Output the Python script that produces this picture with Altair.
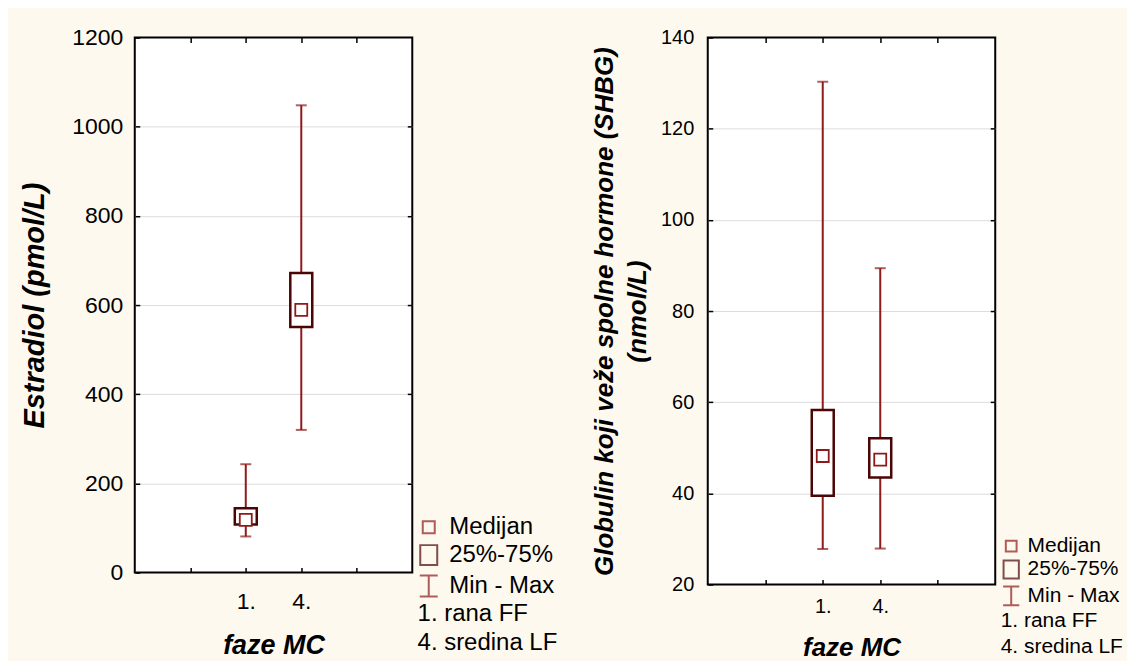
import altair as alt
import pandas as pd

# ---------------- data ----------------
phases = ["1.", "4."]
x_slots = ["_0", "_1", "1.", "4.", "_4", "_5"]
x_ticks = ["_1", "1.", "4.", "_4"]

e2_min = [81, 320]
e2_q1 = [108, 551]
e2_med = [118, 589]
e2_q3 = [144, 672]
e2_max = [243, 1048]
e2_ticks = [0, 200, 400, 600, 800, 1000, 1200]
e2_grid = [200, 400, 600, 800, 1000]

sh_min = [27.8, 27.9]
sh_q1 = [39.5, 43.5]
sh_med = [48.2, 47.4]
sh_q3 = [58.3, 52.1]
sh_max = [130.3, 89.4]
sh_ticks = [20, 40, 60, 80, 100, 120, 140]
sh_grid = [40, 60, 80, 100, 120]

legend_items = ["Medijan", "25%-75%", "Min - Max"]
legend_notes = ["1. rana FF", "4. sredina LF"]

# ---------------- styles ----------------
RED = "#8f1a1a"
MAROON = "#4a0505"
FONT = "Liberation Sans"
BG = "#FEF9EE"
MED_PATH = "M-0.6,-0.6H0.6V0.6H-0.6Z"
BOX_PATH = "M-0.85,-1H0.85V1H-0.85Z"
IBEAM_PATH = "M-0.9,-1.05H0.9M0,-1.05V1.05M-0.9,1.05H0.9"
LABEL_EXPR = "indexof(datum.label, '_') == 0 ? '' : datum.label"


def panel(mins, q1s, meds, q3s, maxs, ticks, grid, y_title, w, h, s):
    df = pd.DataFrame({"faza": phases, "mn": mins, "q1": q1s, "med": meds,
                       "q3": q3s, "mx": maxs})
    yscale = alt.Scale(domain=[ticks[0], ticks[-1]], nice=False, zero=False)
    xscale = alt.Scale(type="point", domain=x_slots, padding=0)

    left_axis = alt.Axis(
        orient="left", values=ticks, format="d", offset=-5, tickSize=5,
        tickWidth=1.5, tickColor="black", domain=False, grid=False,
        labelFont=FONT, labelFontSize=s["tick"], labelColor="black",
        labelPadding=s["ylabpad"],
        title=y_title, titleFont=FONT, titleFontSize=s["ytitle"],
        titleFontWeight="bold", titleFontStyle="italic", titleColor="black",
        titlePadding=s["ytitlepad"], titleLineHeight=s["ytitlelh"])
    bottom_axis = alt.Axis(
        orient="bottom", values=x_ticks, labelExpr=LABEL_EXPR, labelAngle=0,
        offset=-5, tickSize=5, tickWidth=1.5, tickColor="black",
        domain=False, grid=False,
        labelFont=FONT, labelFontSize=s["tick"], labelColor="black",
        labelPadding=s["xlabpad"],
        title="faze MC", titleFont=FONT, titleFontSize=s["xtitle"],
        titleFontWeight="bold", titleFontStyle="italic", titleColor="black",
        titlePadding=s["xtitlepad"])
    right_axis = alt.Axis(
        orient="right", values=grid, offset=-5, tickSize=5, tickWidth=1.5,
        tickColor="black", domain=False, labels=False, title=None,
        grid=True, gridColor="#dcdcdc", gridWidth=1)
    top_axis = alt.Axis(
        orient="top", values=x_ticks, offset=-5, tickSize=5, tickWidth=1.5,
        tickColor="black", domain=False, labels=False, title=None, grid=False)

    base = alt.Chart(df)
    xn = alt.X("faza:N", scale=xscale, axis=bottom_axis)

    def yq(field):
        return alt.Y(field, type="quantitative", scale=yscale, axis=left_axis)

    whisk = base.mark_rule(color=RED, strokeWidth=2).encode(
        x=xn, y=yq("mn"), y2="mx:Q")
    cap_lo = base.mark_tick(color=RED, size=11, thickness=2).encode(
        x=xn, y=yq("mn"))
    cap_hi = base.mark_tick(color=RED, size=11, thickness=2).encode(
        x=xn, y=yq("mx"))
    box = base.mark_bar(size=22, fill="white", stroke=MAROON,
                        strokeWidth=2.5).encode(
        x=xn, y=yq("q1"), y2="q3:Q")
    med = base.mark_point(shape="square", size=144, filled=True, fill="white",
                          stroke=RED, strokeWidth=1.8, opacity=1).encode(
        x=xn, y=yq("med"))
    main = alt.layer(whisk, cap_lo, cap_hi, box, med)

    # legend carriers (no drawn marks: y is empty)
    items_df = pd.DataFrame({"item": legend_items,
                             "slot": ["_1"] * len(legend_items),
                             "v": [None] * len(legend_items)})
    notes_df = pd.DataFrame({"note": legend_notes,
                             "slot": ["_1"] * len(legend_notes),
                             "v": [None] * len(legend_notes)})
    leg_items = alt.Legend(
        title=None, orient="none", legendX=s["lx"], legendY=s["ly"],
        symbolSize=s["symsize"], symbolStrokeWidth=2, padding=0,
        labelFont=FONT, labelFontSize=s["leg"], labelColor="black",
        labelOffset=s["loff"], rowPadding=s["rowpad"], labelLimit=300)
    leg_notes = alt.Legend(
        title=None, orient="none", legendX=s["nx"], legendY=s["ny"],
        symbolType="circle", symbolSize=1, symbolStrokeWidth=0, padding=0,
        symbolFillColor="transparent",
        labelFont=FONT, labelFontSize=s["leg"], labelColor="black",
        labelOffset=0, rowPadding=s["nrowpad"], labelLimit=300)
    items = alt.Chart(items_df).mark_point(filled=False).encode(
        x=alt.X("slot:N", scale=xscale, axis=top_axis),
        y=alt.Y("v:Q", scale=yscale, axis=right_axis),
        shape=alt.Shape("item:N", scale=alt.Scale(
            domain=legend_items, range=[MED_PATH, BOX_PATH, IBEAM_PATH]),
            legend=leg_items),
        stroke=alt.Stroke("item:N", scale=alt.Scale(
            domain=legend_items, range=[RED, MAROON, RED]),
            legend=leg_items))
    notes = alt.Chart(notes_df).mark_point(filled=True).encode(
        x=alt.X("slot:N", scale=xscale, axis=None),
        y=alt.Y("v:Q", scale=yscale, axis=None),
        fill=alt.Fill("note:N", scale=alt.Scale(
            domain=legend_notes, range=["transparent", "transparent"]),
            legend=leg_notes))

    return alt.layer(main, items, notes).resolve_scale(
        x="independent", y="independent").properties(width=w, height=h)


left_style = dict(tick=23, ylabpad=12, ytitle=29, ytitlepad=22, ytitlelh=33,
                  xlabpad=18, xtitle=27, xtitlepad=19,
                  lx=282.5, ly=478.5, loff=8.5, nx=259.3, ny=566,
                  symsize=400, leg=24, rowpad=2, nrowpad=5)
right_style = dict(tick=20, ylabpad=14, ytitle=26, ytitlepad=10, ytitlelh=33,
                   xlabpad=12, xtitle=26, xtitlepad=18,
                   lx=293.5, ly=499, loff=5.9, nx=272.4, ny=573.6,
                   symsize=324, leg=21, rowpad=-0.6, nrowpad=4)

left = panel(e2_min, e2_q1, e2_med, e2_q3, e2_max, e2_ticks, e2_grid,
             "Estradiol (pmol/L)", 278, 536, left_style)
right = panel(sh_min, sh_q1, sh_med, sh_q3, sh_max, sh_ticks, sh_grid,
              ["Globulin koji veže spolne hormone (SHBG)", "(nmol/L)"],
              288, 548, right_style)

chart = alt.hconcat(left, right, spacing=296, bounds="flush").resolve_scale(
    x="independent", y="independent", shape="independent",
    stroke="independent", fill="independent"
).resolve_legend(
    shape="independent", stroke="independent", fill="independent"
).properties(
    background=BG,
    padding={"left": 11, "top": 17, "right": 2, "bottom": 0},
).configure_view(
    stroke="black", strokeWidth=2, fill="white"
)

chart.save("out.html", embed_options={"renderer": "svg", "actions": False})
